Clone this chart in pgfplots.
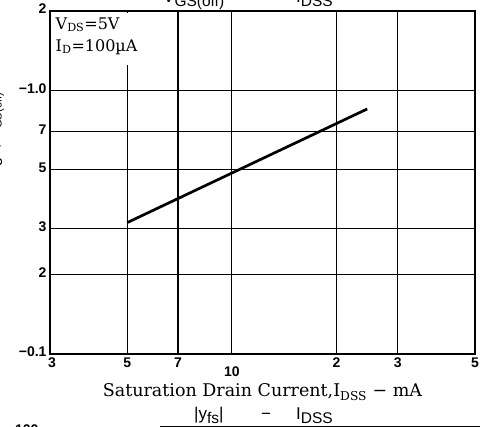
\documentclass[border=0pt]{standalone}
\usepackage{fontspec}
\setmainfont{DejaVu Serif}
\newfontfamily\numfont{Liberation Sans}
\usepackage{pgfplots}
\pgfplotsset{compat=1.18}
\newcommand{\bsub}[1]{\raisebox{-3.5pt}{\fontsize{15.5}{15.5}\selectfont #1}}
\begin{document}
\begin{tikzpicture}
\begin{axis}[name=ax, at={(0,0)}, anchor=south west,
  scale only axis, width=425pt, height=343pt,
  xmode=log, ymode=log, xmin=3, xmax=50, ymin=0.1, ymax=2,
  xtick={3,5,7,10,20,30,50},
  xticklabels={\hspace*{4pt}3,5,7,\raisebox{-9pt}[\height][\depth]{10},2,3,5},
  ytick={0.1,0.2,0.3,0.5,0.7,1,2},
  yticklabels={−0.1,2,3,5,7,−1.0,2},
  minor xtick={}, minor ytick={},
  grid=major, major grid style={black, line width=1.2pt},
  axis line style={black, line width=1.9pt},
  major tick length=0pt,
  ticklabel style={font=\numfont\bfseries\fontsize{14}{14}\selectfont},
  yticklabel style={yshift=2pt},
  clip=false]
\addplot[black, line width=2.7pt] coordinates {(5,0.315) (24.5,0.85)};
\node[anchor=north west, fill=white, inner xsep=4pt, inner ysep=5pt, align=left,
  font=\fontsize{16}{22}\selectfont] at ([xshift=1.5pt,yshift=-1.5pt]rel axis cs:0,1)
  {V\textsubscript{DS}=5V\\I\textsubscript{D}=100µA\rule[-9pt]{0pt}{0pt}};
\end{axis}
\node[anchor=base, font=\fontsize{17.5}{17.5}\selectfont] at ([yshift=-43pt]ax.south)
  {Saturation Drain Current,I\textsubscript{DSS} − mA};
% lower title
\node[anchor=base west, inner sep=0pt, font=\numfont\fontsize{17}{17}\selectfont] at ([shift={(144pt,-66pt)}]ax.south west)
  {|y\bsub{fs}|};
\node[anchor=base, inner sep=0pt, font=\numfont\fontsize{17}{17}\selectfont] at ([shift={(216pt,-66pt)}]ax.south west) {−};
\node[anchor=base west, inner sep=0pt, font=\numfont\fontsize{17}{17}\selectfont] at ([shift={(246pt,-66pt)}]ax.south west)
  {I\bsub{DSS}};
% upper title (cut off)
\node[anchor=base west, inner sep=0pt, font=\numfont\fontsize{17}{17}\selectfont] at ([shift={(113pt,8pt)}]ax.north west)
  {V\bsub{GS(off)}};
\node[anchor=base, inner sep=0pt, font=\numfont\fontsize{17}{17}\selectfont] at ([shift={(216pt,8pt)}]ax.north west) {−};
\node[anchor=base west, inner sep=0pt, font=\numfont\fontsize{17}{17}\selectfont] at ([shift={(246pt,8pt)}]ax.north west)
  {I\bsub{DSS}};
% left label (cut off)
\node[anchor=base east, rotate=90, font=\numfont\fontsize{16}{16}\selectfont] at ([shift={(-51pt,294pt)}]ax.south west)
  {Gate Cut-off Voltage, V\textsubscript{GS(off)} − V};
\node[anchor=north east, font=\numfont\bfseries\fontsize{14}{14}\selectfont] at ([shift={(-8pt,-67pt)}]ax.south west) {−\ 100};
\draw[black, line width=1pt] ([shift={(110pt,-72.5pt)}]ax.south west) -- ([shift={(430pt,-72.5pt)}]ax.south west);
\pgfresetboundingbox
\useasboundingbox ([shift={(-50pt,-73pt)}]ax.south west) rectangle ([shift={(430pt,354pt)}]ax.south west);
\end{tikzpicture}
\end{document}
